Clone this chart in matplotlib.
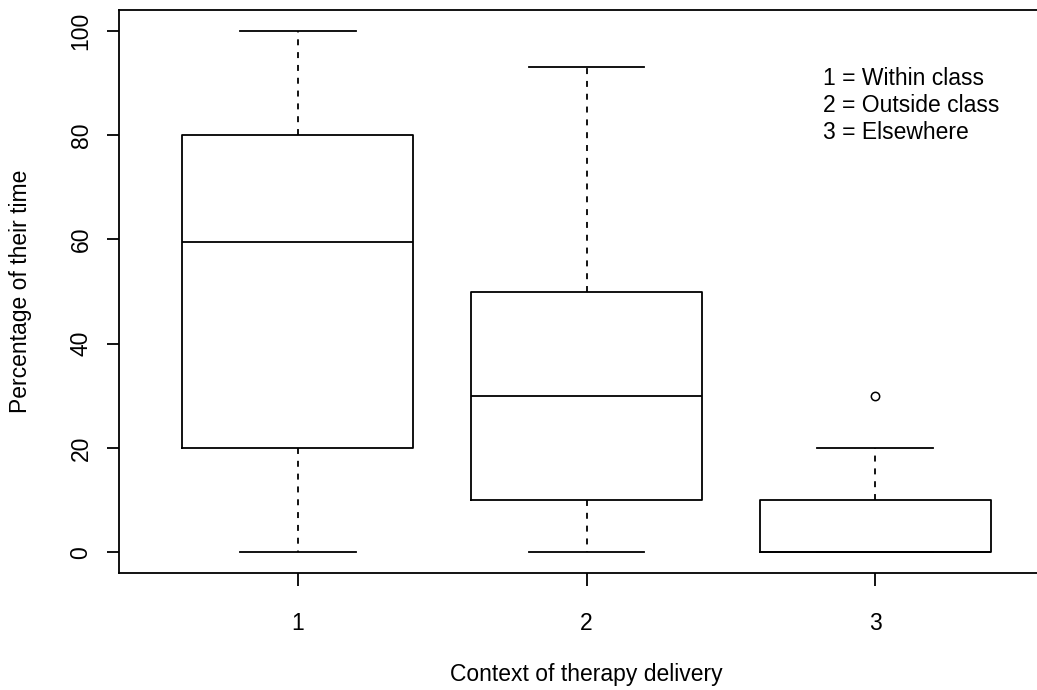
import matplotlib.pyplot as plt

plt.rcParams["font.family"] = ["Liberation Sans", "DejaVu Sans"]

# summary stats
positions = [1, 2, 3]
tick_labels = ["1", "2", "3"]
whislo = [0, 0, 0]
q1 = [20, 10, 0]
med = [59.5, 30, 0]
q3 = [80, 50, 10]
whishi = [100, 93, 20]
fliers = [[], [], [30]]
legend_lines = ["1 = Within class", "2 = Outside class", "3 = Elsewhere"]

stats = [
    {"whislo": lo, "q1": a, "med": m, "q3": b, "whishi": hi, "fliers": fl}
    for lo, a, m, b, hi, fl in zip(whislo, q1, med, q3, whishi, fliers)
]

W, H = 1037, 690
fs = 16.5
fig = plt.figure(figsize=(W / 100, H / 100), dpi=100)
# right spine falls just outside the canvas, as in the reference
ax = fig.add_axes([119 / W, (H - 573) / H, (1054 - 119) / W, (573 - 10) / H])

lw = 1.3
ax.bxp(
    stats,
    positions=positions,
    widths=0.8,
    showfliers=True,
    boxprops=dict(color="black", linewidth=lw),
    medianprops=dict(color="black", linewidth=lw),
    whiskerprops=dict(color="black", linewidth=lw, linestyle=(0, (3.3, 3.8))),
    capprops=dict(color="black", linewidth=lw),
    capwidths=0.4,
    flierprops=dict(marker="o", markersize=6, markerfacecolor="none",
                    markeredgecolor="black", markeredgewidth=1.1),
)

ax.set_xlim(0.38, 3.62)
ax.set_ylim(-4, 104)
ax.set_xticks(positions)
ax.set_xticklabels(tick_labels)
ax.set_yticks([0, 20, 40, 60, 80, 100])
ax.tick_params(axis="both", length=9, width=lw, labelsize=fs, colors="black")
ax.tick_params(axis="x", pad=19)
ax.tick_params(axis="y", pad=10)
for lab in ax.get_yticklabels():
    lab.set_rotation(90)
    lab.set_va("center")
for s in ax.spines.values():
    s.set_linewidth(lw)

ax.set_xlabel("Context of therapy delivery", fontsize=fs, labelpad=20)
ax.set_ylabel("Percentage of their time", fontsize=fs, labelpad=27)

ax.text(2.818, 93.0, "\n".join(legend_lines), fontsize=fs, va="top", ha="left",
        linespacing=1.2)

fig.savefig("out.png", dpi=100)
